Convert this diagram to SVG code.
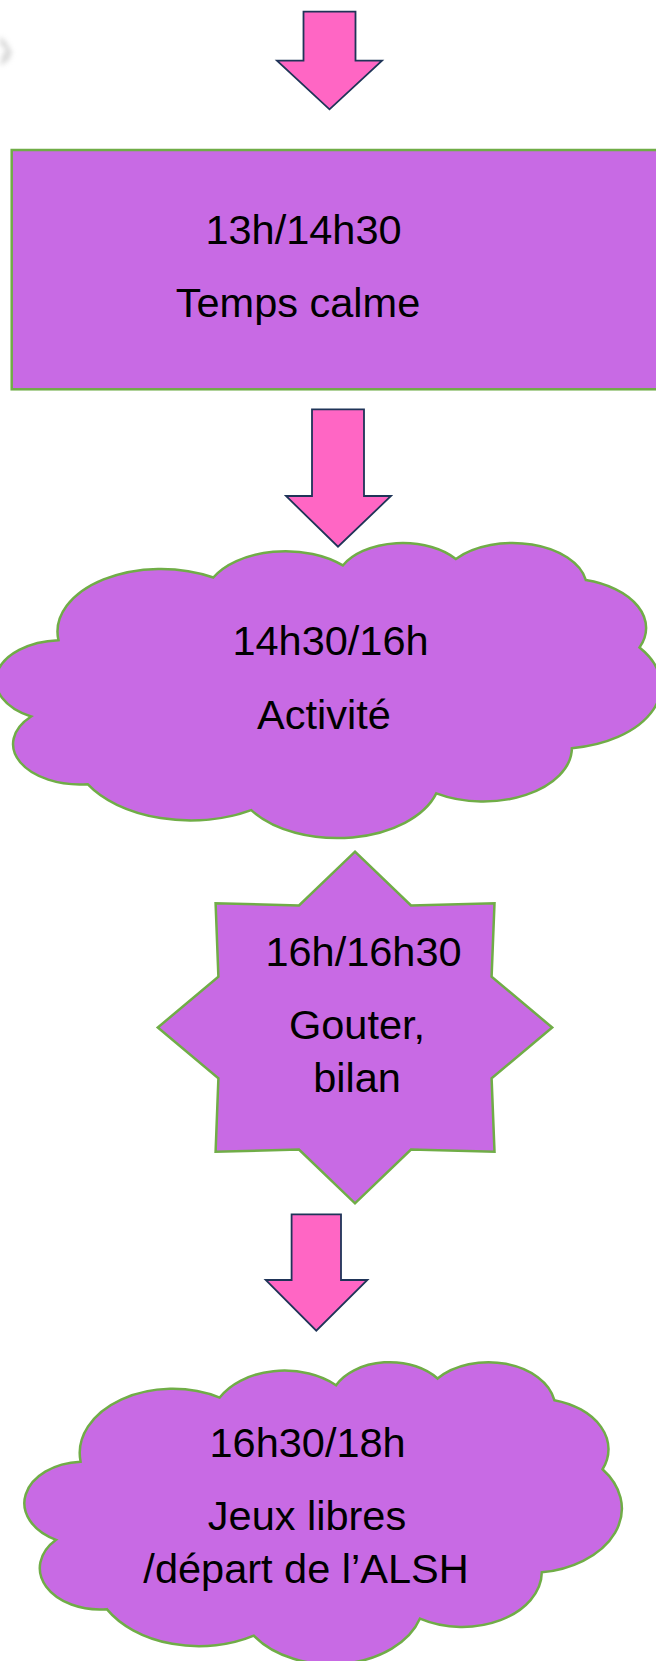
<svg xmlns="http://www.w3.org/2000/svg" xmlns:xlink="http://www.w3.org/1999/xlink" width="656" height="1661" viewBox="0 0 656 1661">
  <style>
    .shape { fill: #C86AE4; stroke: #70AD47; stroke-width: 2.5; }
    .arrow { fill: #FF66C4; stroke: #1F3458; stroke-width: 1.8; stroke-linejoin: miter; }
    .lbl { font-family: "Liberation Sans", Arial, sans-serif; font-size: 41.5px; fill: #000; text-anchor: middle; }
  </style>
  <defs>
    <path id="cloud" vector-effect="non-scaling-stroke" d="M 3900 14370 A 6753 9190 0 0 1 14005 5202 A 5333 7267 0 0 1 22456 3432 A 4365 5945 0 0 1 29832 2479 A 4857 6595 0 0 1 38317 5574 A 5333 7273 0 0 1 41817 15458 A 6775 9220 0 0 1 37405 30203 A 5785 7867 0 0 1 28556 36813 A 6752 9215 0 0 1 16481 39266 A 7720 10543 0 0 1 5805 35471 A 4360 5918 0 0 1 2114 25549 A 4345 5945 0 0 1 3900 14370 Z"/>
    <filter id="blur" x="-1" y="-1" width="3" height="3">
      <feGaussianBlur stdDeviation="2.5"/>
    </filter>
  </defs>
  <rect width="656" height="1661" fill="#FFFFFF"/>
  <g id="smudge" filter="url(#blur)" opacity="0.55">
    <polygon points="0,36 6,42 12,52 9,60 0,66 2,56 6,50 0,44" fill="#BBBBBB"/>
  </g>

  <g id="connectors">
    <polygon class="arrow" points="303.5,11.7 355.5,11.7 355.5,60.7 382,60.7 329.5,109.3 277,60.7 303.5,60.7"/>
    <polygon class="arrow" points="312,409.3 364,409.3 364,496 391,496 338,546.7 286,496 312,496"/>
    <polygon class="arrow" points="291.6,1214.3 341,1214.3 341,1280 367.4,1280 316.3,1330.7 265.7,1280 291.6,1280"/>
  </g>

  <g id="node-temps-calme">
    <rect class="shape" x="11.7" y="150" width="660" height="239.3"/>
    <text class="lbl" x="303.5" y="243.8">13h/14h30</text>
    <text class="lbl" x="298" y="317.3">Temps calme</text>
  </g>

  <g id="node-activite">
    <use xlink:href="#cloud" class="shape" transform="translate(-1.3,542) scale(0.015324,0.0068287)"/>
    <text class="lbl" x="330.5" y="654.5">14h30/16h</text>
    <text class="lbl" x="324" y="728.5">Activité</text>
  </g>

  <g id="node-gouter">
    <polygon class="shape" points="355,851.7 411,905.5 494.5,903.2 491.6,976.7 552.2,1027.5 491.6,1078.3 494.5,1151.8 411,1149.5 355,1203.3 299,1149.5 215.6,1151.8 218.4,1078.3 157.8,1027.5 218.4,976.7 215.6,903.2 299,905.5"/>
    <text class="lbl" x="363.5" y="965.5">16h/16h30</text>
    <text class="lbl" x="357" y="1038.8">Gouter,</text>
    <text class="lbl" x="357" y="1091.5">bilan</text>
  </g>

  <g id="node-jeux-libres">
    <use xlink:href="#cloud" class="shape" transform="translate(26.9,1361.2) scale(0.013766,0.0069907)"/>
    <text class="lbl" x="307.6" y="1457">16h30/18h</text>
    <text class="lbl" x="307" y="1529.6">Jeux libres</text>
    <text class="lbl" x="306" y="1583">/départ de l’ALSH</text>
  </g>
</svg>
